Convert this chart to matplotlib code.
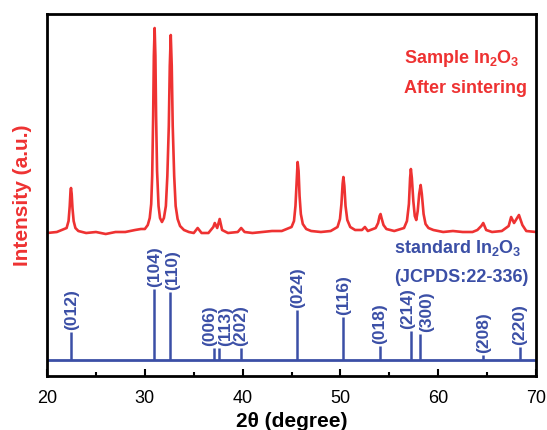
import matplotlib
matplotlib.use("Agg")
import matplotlib.pyplot as plt
from matplotlib.ticker import MultipleLocator

plt.rcParams['font.family'] = ['Liberation Sans', 'DejaVu Sans']
plt.rcParams['mathtext.fontset'] = 'custom'
plt.rcParams['mathtext.bf'] = 'Liberation Sans:bold'
plt.rcParams['mathtext.rm'] = 'Liberation Sans:bold'

# measured XRD pattern of the sintered sample (2theta, intensity a.u.)
two_theta = [20.0, 21.0, 22.0, 22.2, 22.32, 22.4, 22.45, 22.52, 22.6, 22.72, 22.9, 23.2,
             24.0, 25.0, 26.0, 27.0, 28.0, 29.0, 29.6, 30.0, 30.3, 30.5, 30.65, 30.75,
             30.85, 30.92, 31.0, 31.08, 31.15, 31.25, 31.4, 31.55, 31.75, 31.95, 32.15,
             32.3, 32.45, 32.55, 32.65, 32.75, 32.85, 33.0, 33.15, 33.35, 33.6, 34.0,
             34.5, 35.0, 35.4, 35.8, 36.5, 37.0, 37.15, 37.4, 37.65, 37.9, 38.5, 39.5,
             39.85, 40.2, 41.0, 42.0, 43.0, 44.0, 45.0, 45.25, 45.4, 45.52, 45.62, 45.72,
             45.82, 45.95, 46.15, 46.5, 47.0, 48.0, 49.0, 49.7, 49.95, 50.1, 50.22, 50.3,
             50.4, 50.52, 50.7, 51.0, 51.5, 52.2, 52.5, 52.8, 53.6, 53.85, 54.0, 54.1,
             54.2, 54.4, 54.7, 55.5, 56.5, 56.8, 57.0, 57.12, 57.2, 57.3, 57.45, 57.6,
             57.75, 57.9, 58.05, 58.2, 58.32, 58.5, 58.7, 59.0, 59.5, 60.5, 61.5, 62.5,
             63.5, 64.0, 64.4, 64.6, 64.9, 65.5, 66.5, 67.2, 67.45, 67.75, 68.25, 68.6,
             69.0, 70.0]
intensity = [143, 144, 148, 155, 170, 185, 188, 182, 168, 155, 148, 145,
             143, 144, 142, 144, 144, 146, 147, 147, 151, 158, 172, 200,
             260, 320, 348, 320, 260, 205, 170, 158, 154, 158, 170,
             200, 250, 310, 341, 310, 250, 200, 170, 157, 150, 146,
             144, 143, 148, 143, 143, 149, 153, 148, 157, 146, 143, 144,
             148, 144, 143, 144, 145, 145, 149, 155, 170, 195, 214, 205,
             180, 162, 152, 147, 145, 144, 145, 149, 157, 172, 192, 199,
             190, 170, 156, 149, 146, 146, 149, 145, 148, 153, 160, 162,
             158, 151, 147, 145, 148, 155, 172, 198, 207, 198, 175, 160,
             156, 165, 182, 191, 182, 162, 152, 148, 146, 144, 145, 144,
             144, 146, 150, 153, 146, 144, 145, 150, 159, 153, 161, 151,
             145, 144]

# JCPDS 22-336 reference lines
std_pos = [22.5, 30.95, 32.6, 37.1, 37.6, 39.8, 45.6, 50.3, 54.05, 57.2, 58.15, 64.6, 68.35]
std_int = [28, 71, 68, 12, 12, 12, 50, 43, 14, 29, 26, 5, 13]
std_hkl = ['(012)', '(104)', '(110)', '(006)', '(113)', '(202)', '(024)',
           '(116)', '(018)', '(214)', '(300)', '(208)', '(220)']
std_base = 16

red = '#ee3232'
blue = '#3b4fa6'

fig = plt.figure(figsize=(5.47, 4.30), dpi=100)
ax = fig.add_axes([0.086, 0.1256, 0.894, 0.8418])

ax.plot(two_theta, intensity, color=red, lw=1.9, solid_joinstyle='round')

ax.axhline(std_base, color=blue, lw=2.0)
ax.vlines(std_pos, std_base, [std_base + v for v in std_int], color=blue, lw=1.8)

# small sideways shifts so crowded labels do not overlap
shift = {'(006)': -0.5, '(113)': 0.65, '(110)': 0.25, '(214)': -0.35, '(300)': 0.65}
for p, v, h in zip(std_pos, std_int, std_hkl):
    ax.annotate(h, (p + shift.get(h, 0), std_base + v), xytext=(0, 1.5),
                textcoords='offset points', rotation=90, ha='center', va='bottom',
                color=blue, fontsize=12.5, fontweight='bold')

ax.text(56.5, 313, 'Sample In$_\\mathbf{2}$O$_\\mathbf{3}$', color=red,
        fontsize=13, fontweight='bold', va='baseline')
ax.text(56.5, 283, 'After sintering', color=red, fontsize=13,
        fontweight='bold', va='baseline')
ax.text(55.5, 123, 'standard In$_\\mathbf{2}$O$_\\mathbf{3}$', color=blue,
        fontsize=13, fontweight='bold', va='baseline')
ax.text(55.5, 94, '(JCPDS:22-336)', color=blue, fontsize=13,
        fontweight='bold', va='baseline')

ax.set_xlim(20, 70)
ax.set_ylim(0, 362)
ax.xaxis.set_major_locator(MultipleLocator(10))
ax.xaxis.set_minor_locator(MultipleLocator(5))
ax.tick_params(axis='x', which='major', direction='in', length=5, width=1.5,
               labelsize=13, pad=10)
ax.tick_params(axis='x', which='minor', direction='in', length=3, width=1.5)
ax.set_yticks([])
for s in ax.spines.values():
    s.set_linewidth(2.0)

ax.set_xlabel('2θ (degree)', fontsize=15, fontweight='bold', labelpad=4)
ax.set_ylabel('Intensity (a.u.)', fontsize=15, fontweight='bold', color=red,
              labelpad=11)

fig.savefig('out.png', dpi=100)
